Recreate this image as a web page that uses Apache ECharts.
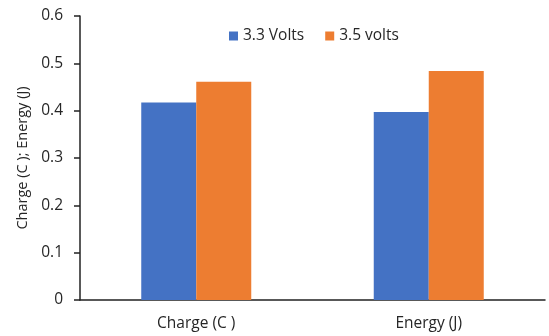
<!DOCTYPE html>
<html>
<head>
<meta charset="utf-8">
<script src="https://cdn.jsdelivr.net/npm/echarts@6/dist/echarts.min.js"></script>
<style>html,body{margin:0;padding:0;background:#fff}#c{width:549px;height:336px}</style>
</head>
<body>
<div id="c"></div>
<script>
const categories = ['Charge (C )', 'Energy (J)'];
const seriesNames = ['3.3 Volts', '3.5 volts'];
const volts33 = [0.417, 0.397];
const volts35 = [0.461, 0.484];
const yTicks = [0, 0.1, 0.2, 0.3, 0.4, 0.5, 0.6];

const font = "'Open Sans', 'Noto Sans', sans-serif";
const chart = echarts.init(document.getElementById('c'));
chart.setOption({
  animation: false,
  textStyle: { fontFamily: font },
  legend: {
    data: seriesNames,
    top: 23,
    left: 224,
    itemWidth: 9,
    itemHeight: 9,
    itemGap: 21,
    itemStyle: { borderWidth: 0 },
    icon: 'rect',
    textStyle: { fontSize: 15.5, color: '#262626', fontFamily: font }
  },
  grid: { left: 80, right: 4, top: 16, bottom: 36, containLabel: false },
  xAxis: {
    type: 'category',
    data: categories,
    axisLine: { lineStyle: { color: '#222', width: 1.5 } },
    axisTick: { show: false },
    axisLabel: { color: '#262626', fontSize: 15.5, margin: 16, fontFamily: font }
  },
  yAxis: {
    type: 'value',
    min: yTicks[0],
    max: yTicks[yTicks.length - 1],
    interval: 0.1,
    name: 'Charge (C ); Energy (J)',
    nameLocation: 'middle',
    nameGap: 48,
    nameRotate: 90,
    nameTextStyle: { color: '#262626', fontSize: 14.5, fontFamily: font },
    axisLine: { show: true, lineStyle: { color: '#222', width: 1.5 } },
    axisTick: { show: true, inside: false, length: 6, lineStyle: { color: '#222', width: 1.5 } },
    splitLine: { show: false },
    axisLabel: {
      color: '#262626', fontSize: 15.5, margin: 17, fontFamily: font,
      formatter: v => String(Math.round(v * 10) / 10)
    }
  },
  series: [
    { name: seriesNames[0], type: 'bar', data: volts33, barWidth: 55, barGap: '0%', itemStyle: { color: '#4472C4' } },
    { name: seriesNames[1], type: 'bar', data: volts35, barWidth: 55, barGap: '0%', itemStyle: { color: '#ED7D31' } }
  ]
});
</script>
</body>
</html>
